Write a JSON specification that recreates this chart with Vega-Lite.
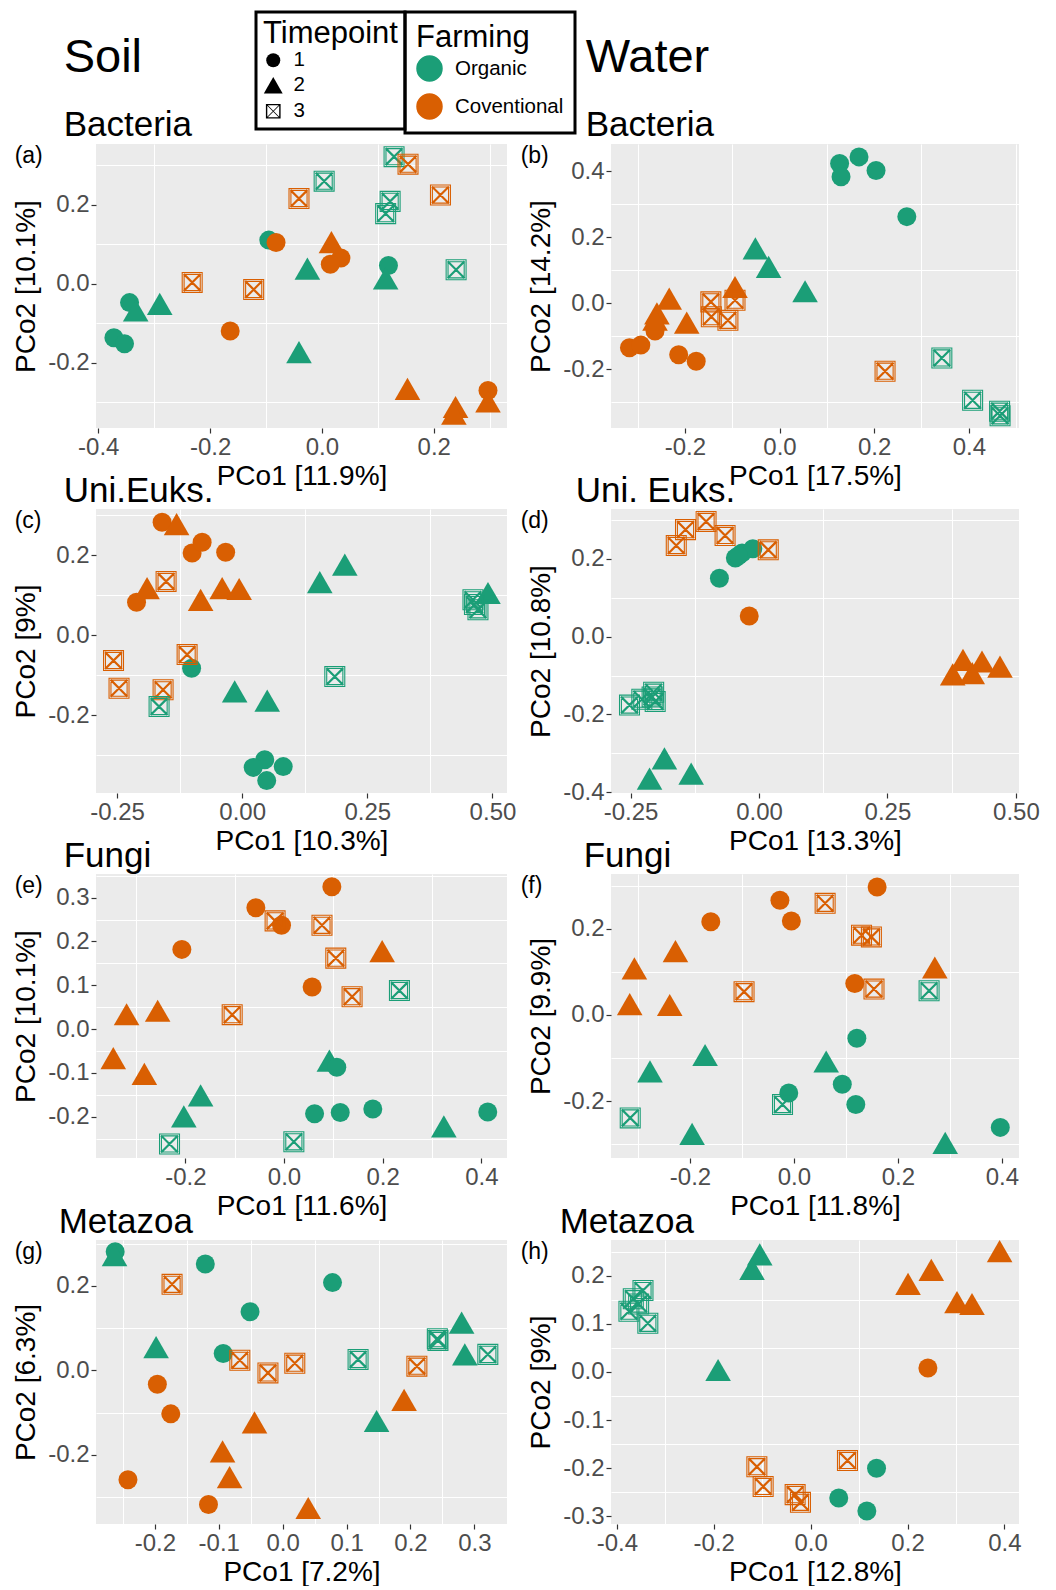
{
"$schema": "https://vega.github.io/schema/vega-lite/v6.json",
"padding": {"left": 12, "top": 10, "right": 5, "bottom": 0},
"autosize": {"type": "pad"},
"background": "white",
"config": {
 "font": "Liberation Sans",
 "locale": {"number": {"decimal": ".", "thousands": ",", "grouping": [3], "currency": ["$", ""], "minus": "-"}},
 "view": {"fill": "#EBEBEB", "stroke": null},
 "axis": {"grid": true, "gridColor": "white", "labelFontSize": 24, "labelColor": "#4D4D4D", "labelFont": "Liberation Sans", "titleFont": "Liberation Sans", "titleFontSize": 28, "titleFontWeight": "normal", "titleColor": "black", "tickColor": "#333333", "tickSize": 5, "tickWidth": 1.2, "domain": false, "labelFlush": false, "labelOverlap": false, "labelPadding": 2},
 "axisX": {"titlePadding": 3},
 "axisY": {"titlePadding": 7},
 "title": {"font": "Liberation Sans", "fontWeight": "normal", "color": "black", "anchor": "start", "frame": "bounds", "subtitleColor": "black", "subtitleFont": "Liberation Sans", "subtitleFontWeight": "normal"},
 "legend": {"titleFont": "Liberation Sans", "labelFont": "Liberation Sans", "titleFontSize": 31, "labelFontSize": 20.5, "titleFontWeight": "normal", "titleColor": "black", "labelColor": "black", "strokeColor": "black", "strokeWidth": 3, "padding": 7, "labelOffset": 10}
},
"datasets": {
"a": [
{"PCo1":0.129,"PCo2":0.321,"Farming":"Organic","Timepoint":"3"},
{"PCo1":0.004,"PCo2":0.259,"Farming":"Organic","Timepoint":"3"},
{"PCo1":0.122,"PCo2":0.208,"Farming":"Organic","Timepoint":"3"},
{"PCo1":0.114,"PCo2":0.177,"Farming":"Organic","Timepoint":"3"},
{"PCo1":0.240,"PCo2":0.035,"Farming":"Organic","Timepoint":"3"},
{"PCo1":-0.095,"PCo2":0.110,"Farming":"Organic","Timepoint":"1"},
{"PCo1":0.119,"PCo2":0.046,"Farming":"Organic","Timepoint":"1"},
{"PCo1":-0.344,"PCo2":-0.048,"Farming":"Organic","Timepoint":"1"},
{"PCo1":-0.372,"PCo2":-0.137,"Farming":"Organic","Timepoint":"1"},
{"PCo1":-0.353,"PCo2":-0.152,"Farming":"Organic","Timepoint":"1"},
{"PCo1":-0.026,"PCo2":0.038,"Farming":"Organic","Timepoint":"2"},
{"PCo1":0.114,"PCo2":0.013,"Farming":"Organic","Timepoint":"2"},
{"PCo1":-0.333,"PCo2":-0.068,"Farming":"Organic","Timepoint":"2"},
{"PCo1":-0.290,"PCo2":-0.051,"Farming":"Organic","Timepoint":"2"},
{"PCo1":-0.041,"PCo2":-0.173,"Farming":"Organic","Timepoint":"2"},
{"PCo1":0.154,"PCo2":0.302,"Farming":"Coventional","Timepoint":"3"},
{"PCo1":-0.041,"PCo2":0.215,"Farming":"Coventional","Timepoint":"3"},
{"PCo1":0.212,"PCo2":0.224,"Farming":"Coventional","Timepoint":"3"},
{"PCo1":-0.232,"PCo2":0.003,"Farming":"Coventional","Timepoint":"3"},
{"PCo1":-0.122,"PCo2":-0.015,"Farming":"Coventional","Timepoint":"3"},
{"PCo1":-0.082,"PCo2":0.104,"Farming":"Coventional","Timepoint":"1"},
{"PCo1":0.034,"PCo2":0.065,"Farming":"Coventional","Timepoint":"1"},
{"PCo1":0.015,"PCo2":0.049,"Farming":"Coventional","Timepoint":"1"},
{"PCo1":-0.164,"PCo2":-0.120,"Farming":"Coventional","Timepoint":"1"},
{"PCo1":0.297,"PCo2":-0.270,"Farming":"Coventional","Timepoint":"1"},
{"PCo1":0.017,"PCo2":0.105,"Farming":"Coventional","Timepoint":"2"},
{"PCo1":0.153,"PCo2":-0.266,"Farming":"Coventional","Timepoint":"2"},
{"PCo1":0.239,"PCo2":-0.312,"Farming":"Coventional","Timepoint":"2"},
{"PCo1":0.236,"PCo2":-0.329,"Farming":"Coventional","Timepoint":"2"},
{"PCo1":0.297,"PCo2":-0.298,"Farming":"Coventional","Timepoint":"2"}
],
"b": [
{"PCo1":0.127,"PCo2":0.423,"Farming":"Organic","Timepoint":"1"},
{"PCo1":0.130,"PCo2":0.383,"Farming":"Organic","Timepoint":"1"},
{"PCo1":0.168,"PCo2":0.443,"Farming":"Organic","Timepoint":"1"},
{"PCo1":0.204,"PCo2":0.402,"Farming":"Organic","Timepoint":"1"},
{"PCo1":0.269,"PCo2":0.262,"Farming":"Organic","Timepoint":"1"},
{"PCo1":-0.051,"PCo2":0.166,"Farming":"Organic","Timepoint":"2"},
{"PCo1":-0.023,"PCo2":0.110,"Farming":"Organic","Timepoint":"2"},
{"PCo1":0.054,"PCo2":0.036,"Farming":"Organic","Timepoint":"2"},
{"PCo1":0.343,"PCo2":-0.166,"Farming":"Organic","Timepoint":"3"},
{"PCo1":0.408,"PCo2":-0.294,"Farming":"Organic","Timepoint":"3"},
{"PCo1":0.465,"PCo2":-0.327,"Farming":"Organic","Timepoint":"3"},
{"PCo1":0.466,"PCo2":-0.341,"Farming":"Organic","Timepoint":"3"},
{"PCo1":-0.317,"PCo2":-0.135,"Farming":"Coventional","Timepoint":"1"},
{"PCo1":-0.293,"PCo2":-0.127,"Farming":"Coventional","Timepoint":"1"},
{"PCo1":-0.263,"PCo2":-0.084,"Farming":"Coventional","Timepoint":"1"},
{"PCo1":-0.213,"PCo2":-0.156,"Farming":"Coventional","Timepoint":"1"},
{"PCo1":-0.176,"PCo2":-0.176,"Farming":"Coventional","Timepoint":"1"},
{"PCo1":-0.233,"PCo2":0.014,"Farming":"Coventional","Timepoint":"2"},
{"PCo1":-0.259,"PCo2":-0.031,"Farming":"Coventional","Timepoint":"2"},
{"PCo1":-0.263,"PCo2":-0.050,"Farming":"Coventional","Timepoint":"2"},
{"PCo1":-0.196,"PCo2":-0.059,"Farming":"Coventional","Timepoint":"2"},
{"PCo1":-0.094,"PCo2":0.049,"Farming":"Coventional","Timepoint":"2"},
{"PCo1":-0.145,"PCo2":0.004,"Farming":"Coventional","Timepoint":"3"},
{"PCo1":-0.144,"PCo2":-0.041,"Farming":"Coventional","Timepoint":"3"},
{"PCo1":-0.109,"PCo2":-0.052,"Farming":"Coventional","Timepoint":"3"},
{"PCo1":-0.094,"PCo2":0.009,"Farming":"Coventional","Timepoint":"3"},
{"PCo1":0.223,"PCo2":-0.206,"Farming":"Coventional","Timepoint":"3"}
],
"c": [
{"PCo1":-0.160,"PCo2":0.283,"Farming":"Coventional","Timepoint":"1"},
{"PCo1":-0.100,"PCo2":0.206,"Farming":"Coventional","Timepoint":"1"},
{"PCo1":-0.080,"PCo2":0.233,"Farming":"Coventional","Timepoint":"1"},
{"PCo1":-0.033,"PCo2":0.208,"Farming":"Coventional","Timepoint":"1"},
{"PCo1":-0.211,"PCo2":0.083,"Farming":"Coventional","Timepoint":"1"},
{"PCo1":-0.131,"PCo2":0.278,"Farming":"Coventional","Timepoint":"2"},
{"PCo1":-0.190,"PCo2":0.118,"Farming":"Coventional","Timepoint":"2"},
{"PCo1":-0.083,"PCo2":0.089,"Farming":"Coventional","Timepoint":"2"},
{"PCo1":-0.040,"PCo2":0.118,"Farming":"Coventional","Timepoint":"2"},
{"PCo1":-0.006,"PCo2":0.116,"Farming":"Coventional","Timepoint":"2"},
{"PCo1":-0.152,"PCo2":0.135,"Farming":"Coventional","Timepoint":"3"},
{"PCo1":-0.110,"PCo2":-0.048,"Farming":"Coventional","Timepoint":"3"},
{"PCo1":-0.257,"PCo2":-0.063,"Farming":"Coventional","Timepoint":"3"},
{"PCo1":-0.246,"PCo2":-0.132,"Farming":"Coventional","Timepoint":"3"},
{"PCo1":-0.158,"PCo2":-0.136,"Farming":"Coventional","Timepoint":"3"},
{"PCo1":-0.101,"PCo2":-0.082,"Farming":"Organic","Timepoint":"1"},
{"PCo1":0.045,"PCo2":-0.311,"Farming":"Organic","Timepoint":"1"},
{"PCo1":0.022,"PCo2":-0.330,"Farming":"Organic","Timepoint":"1"},
{"PCo1":0.082,"PCo2":-0.328,"Farming":"Organic","Timepoint":"1"},
{"PCo1":0.049,"PCo2":-0.363,"Farming":"Organic","Timepoint":"1"},
{"PCo1":0.155,"PCo2":0.133,"Farming":"Organic","Timepoint":"2"},
{"PCo1":0.205,"PCo2":0.177,"Farming":"Organic","Timepoint":"2"},
{"PCo1":0.491,"PCo2":0.106,"Farming":"Organic","Timepoint":"2"},
{"PCo1":-0.015,"PCo2":-0.140,"Farming":"Organic","Timepoint":"2"},
{"PCo1":0.050,"PCo2":-0.163,"Farming":"Organic","Timepoint":"2"},
{"PCo1":0.461,"PCo2":0.089,"Farming":"Organic","Timepoint":"3"},
{"PCo1":0.471,"PCo2":0.064,"Farming":"Organic","Timepoint":"3"},
{"PCo1":0.464,"PCo2":0.077,"Farming":"Organic","Timepoint":"3"},
{"PCo1":0.185,"PCo2":-0.103,"Farming":"Organic","Timepoint":"3"},
{"PCo1":-0.166,"PCo2":-0.178,"Farming":"Organic","Timepoint":"3"}
],
"d": [
{"PCo1":-0.161,"PCo2":0.234,"Farming":"Coventional","Timepoint":"3"},
{"PCo1":-0.143,"PCo2":0.275,"Farming":"Coventional","Timepoint":"3"},
{"PCo1":-0.103,"PCo2":0.296,"Farming":"Coventional","Timepoint":"3"},
{"PCo1":-0.066,"PCo2":0.260,"Farming":"Coventional","Timepoint":"3"},
{"PCo1":0.018,"PCo2":0.223,"Farming":"Coventional","Timepoint":"3"},
{"PCo1":-0.019,"PCo2":0.053,"Farming":"Coventional","Timepoint":"1"},
{"PCo1":0.377,"PCo2":-0.097,"Farming":"Coventional","Timepoint":"2"},
{"PCo1":0.397,"PCo2":-0.060,"Farming":"Coventional","Timepoint":"2"},
{"PCo1":0.415,"PCo2":-0.094,"Farming":"Coventional","Timepoint":"2"},
{"PCo1":0.434,"PCo2":-0.064,"Farming":"Coventional","Timepoint":"2"},
{"PCo1":0.469,"PCo2":-0.077,"Farming":"Coventional","Timepoint":"2"},
{"PCo1":-0.077,"PCo2":0.150,"Farming":"Organic","Timepoint":"1"},
{"PCo1":-0.046,"PCo2":0.202,"Farming":"Organic","Timepoint":"1"},
{"PCo1":-0.033,"PCo2":0.215,"Farming":"Organic","Timepoint":"1"},
{"PCo1":-0.012,"PCo2":0.226,"Farming":"Organic","Timepoint":"1"},
{"PCo1":-0.040,"PCo2":0.208,"Farming":"Organic","Timepoint":"1"},
{"PCo1":-0.252,"PCo2":-0.176,"Farming":"Organic","Timepoint":"3"},
{"PCo1":-0.228,"PCo2":-0.161,"Farming":"Organic","Timepoint":"3"},
{"PCo1":-0.205,"PCo2":-0.143,"Farming":"Organic","Timepoint":"3"},
{"PCo1":-0.202,"PCo2":-0.167,"Farming":"Organic","Timepoint":"3"},
{"PCo1":-0.208,"PCo2":-0.155,"Farming":"Organic","Timepoint":"3"},
{"PCo1":-0.184,"PCo2":-0.313,"Farming":"Organic","Timepoint":"2"},
{"PCo1":-0.213,"PCo2":-0.365,"Farming":"Organic","Timepoint":"2"},
{"PCo1":-0.132,"PCo2":-0.352,"Farming":"Organic","Timepoint":"2"}
],
"e": [
{"PCo1":0.097,"PCo2":0.325,"Farming":"Coventional","Timepoint":"1"},
{"PCo1":-0.057,"PCo2":0.277,"Farming":"Coventional","Timepoint":"1"},
{"PCo1":-0.005,"PCo2":0.237,"Farming":"Coventional","Timepoint":"1"},
{"PCo1":-0.207,"PCo2":0.182,"Farming":"Coventional","Timepoint":"1"},
{"PCo1":0.057,"PCo2":0.096,"Farming":"Coventional","Timepoint":"1"},
{"PCo1":-0.018,"PCo2":0.247,"Farming":"Coventional","Timepoint":"3"},
{"PCo1":0.077,"PCo2":0.237,"Farming":"Coventional","Timepoint":"3"},
{"PCo1":0.105,"PCo2":0.162,"Farming":"Coventional","Timepoint":"3"},
{"PCo1":0.138,"PCo2":0.074,"Farming":"Coventional","Timepoint":"3"},
{"PCo1":-0.105,"PCo2":0.033,"Farming":"Coventional","Timepoint":"3"},
{"PCo1":0.199,"PCo2":0.178,"Farming":"Coventional","Timepoint":"2"},
{"PCo1":-0.319,"PCo2":0.034,"Farming":"Coventional","Timepoint":"2"},
{"PCo1":-0.256,"PCo2":0.042,"Farming":"Coventional","Timepoint":"2"},
{"PCo1":-0.346,"PCo2":-0.066,"Farming":"Coventional","Timepoint":"2"},
{"PCo1":-0.283,"PCo2":-0.102,"Farming":"Coventional","Timepoint":"2"},
{"PCo1":0.092,"PCo2":-0.072,"Farming":"Organic","Timepoint":"2"},
{"PCo1":-0.169,"PCo2":-0.151,"Farming":"Organic","Timepoint":"2"},
{"PCo1":-0.203,"PCo2":-0.199,"Farming":"Organic","Timepoint":"2"},
{"PCo1":0.324,"PCo2":-0.222,"Farming":"Organic","Timepoint":"2"},
{"PCo1":0.107,"PCo2":-0.087,"Farming":"Organic","Timepoint":"1"},
{"PCo1":0.062,"PCo2":-0.193,"Farming":"Organic","Timepoint":"1"},
{"PCo1":0.114,"PCo2":-0.190,"Farming":"Organic","Timepoint":"1"},
{"PCo1":0.180,"PCo2":-0.182,"Farming":"Organic","Timepoint":"1"},
{"PCo1":0.413,"PCo2":-0.189,"Farming":"Organic","Timepoint":"1"},
{"PCo1":0.234,"PCo2":0.088,"Farming":"Organic","Timepoint":"3"},
{"PCo1":-0.232,"PCo2":-0.262,"Farming":"Organic","Timepoint":"3"},
{"PCo1":0.020,"PCo2":-0.257,"Farming":"Organic","Timepoint":"3"}
],
"f": [
{"PCo1":0.160,"PCo2":0.297,"Farming":"Coventional","Timepoint":"1"},
{"PCo1":-0.027,"PCo2":0.266,"Farming":"Coventional","Timepoint":"1"},
{"PCo1":-0.005,"PCo2":0.218,"Farming":"Coventional","Timepoint":"1"},
{"PCo1":-0.160,"PCo2":0.216,"Farming":"Coventional","Timepoint":"1"},
{"PCo1":0.117,"PCo2":0.073,"Farming":"Coventional","Timepoint":"1"},
{"PCo1":0.060,"PCo2":0.259,"Farming":"Coventional","Timepoint":"3"},
{"PCo1":0.130,"PCo2":0.185,"Farming":"Coventional","Timepoint":"3"},
{"PCo1":0.149,"PCo2":0.181,"Farming":"Coventional","Timepoint":"3"},
{"PCo1":0.154,"PCo2":0.060,"Farming":"Coventional","Timepoint":"3"},
{"PCo1":-0.096,"PCo2":0.054,"Farming":"Coventional","Timepoint":"3"},
{"PCo1":-0.228,"PCo2":0.148,"Farming":"Coventional","Timepoint":"2"},
{"PCo1":-0.307,"PCo2":0.108,"Farming":"Coventional","Timepoint":"2"},
{"PCo1":0.271,"PCo2":0.110,"Farming":"Coventional","Timepoint":"2"},
{"PCo1":-0.316,"PCo2":0.025,"Farming":"Coventional","Timepoint":"2"},
{"PCo1":-0.239,"PCo2":0.023,"Farming":"Coventional","Timepoint":"2"},
{"PCo1":0.121,"PCo2":-0.054,"Farming":"Organic","Timepoint":"1"},
{"PCo1":0.093,"PCo2":-0.161,"Farming":"Organic","Timepoint":"1"},
{"PCo1":0.119,"PCo2":-0.208,"Farming":"Organic","Timepoint":"1"},
{"PCo1":-0.010,"PCo2":-0.181,"Farming":"Organic","Timepoint":"1"},
{"PCo1":0.397,"PCo2":-0.261,"Farming":"Organic","Timepoint":"1"},
{"PCo1":-0.171,"PCo2":-0.093,"Farming":"Organic","Timepoint":"2"},
{"PCo1":-0.277,"PCo2":-0.131,"Farming":"Organic","Timepoint":"2"},
{"PCo1":0.062,"PCo2":-0.108,"Farming":"Organic","Timepoint":"2"},
{"PCo1":-0.196,"PCo2":-0.276,"Farming":"Organic","Timepoint":"2"},
{"PCo1":0.291,"PCo2":-0.297,"Farming":"Organic","Timepoint":"2"},
{"PCo1":-0.315,"PCo2":-0.239,"Farming":"Organic","Timepoint":"3"},
{"PCo1":-0.022,"PCo2":-0.208,"Farming":"Organic","Timepoint":"3"},
{"PCo1":0.260,"PCo2":0.056,"Farming":"Organic","Timepoint":"3"}
],
"g": [
{"PCo1":-0.262,"PCo2":0.281,"Farming":"Organic","Timepoint":"1"},
{"PCo1":-0.121,"PCo2":0.252,"Farming":"Organic","Timepoint":"1"},
{"PCo1":0.078,"PCo2":0.208,"Farming":"Organic","Timepoint":"1"},
{"PCo1":-0.051,"PCo2":0.139,"Farming":"Organic","Timepoint":"1"},
{"PCo1":-0.093,"PCo2":0.040,"Farming":"Organic","Timepoint":"1"},
{"PCo1":-0.263,"PCo2":0.273,"Farming":"Organic","Timepoint":"2"},
{"PCo1":-0.198,"PCo2":0.055,"Farming":"Organic","Timepoint":"2"},
{"PCo1":0.280,"PCo2":0.113,"Farming":"Organic","Timepoint":"2"},
{"PCo1":0.285,"PCo2":0.038,"Farming":"Organic","Timepoint":"2"},
{"PCo1":0.147,"PCo2":-0.120,"Farming":"Organic","Timepoint":"2"},
{"PCo1":0.242,"PCo2":0.075,"Farming":"Organic","Timepoint":"3"},
{"PCo1":0.243,"PCo2":0.071,"Farming":"Organic","Timepoint":"3"},
{"PCo1":0.118,"PCo2":0.026,"Farming":"Organic","Timepoint":"3"},
{"PCo1":0.321,"PCo2":0.038,"Farming":"Organic","Timepoint":"3"},
{"PCo1":-0.173,"PCo2":0.204,"Farming":"Coventional","Timepoint":"3"},
{"PCo1":-0.067,"PCo2":0.024,"Farming":"Coventional","Timepoint":"3"},
{"PCo1":-0.023,"PCo2":-0.006,"Farming":"Coventional","Timepoint":"3"},
{"PCo1":0.019,"PCo2":0.017,"Farming":"Coventional","Timepoint":"3"},
{"PCo1":0.210,"PCo2":0.010,"Farming":"Coventional","Timepoint":"3"},
{"PCo1":-0.196,"PCo2":-0.033,"Farming":"Coventional","Timepoint":"1"},
{"PCo1":-0.175,"PCo2":-0.103,"Farming":"Coventional","Timepoint":"1"},
{"PCo1":-0.242,"PCo2":-0.259,"Farming":"Coventional","Timepoint":"1"},
{"PCo1":-0.116,"PCo2":-0.318,"Farming":"Coventional","Timepoint":"1"},
{"PCo1":0.190,"PCo2":-0.070,"Farming":"Coventional","Timepoint":"2"},
{"PCo1":-0.044,"PCo2":-0.123,"Farming":"Coventional","Timepoint":"2"},
{"PCo1":-0.094,"PCo2":-0.192,"Farming":"Coventional","Timepoint":"2"},
{"PCo1":-0.083,"PCo2":-0.253,"Farming":"Coventional","Timepoint":"2"},
{"PCo1":0.040,"PCo2":-0.326,"Farming":"Coventional","Timepoint":"2"}
],
"h": [
{"PCo1":-0.375,"PCo2":0.126,"Farming":"Organic","Timepoint":"3"},
{"PCo1":-0.366,"PCo2":0.152,"Farming":"Organic","Timepoint":"3"},
{"PCo1":-0.346,"PCo2":0.169,"Farming":"Organic","Timepoint":"3"},
{"PCo1":-0.336,"PCo2":0.101,"Farming":"Organic","Timepoint":"3"},
{"PCo1":-0.355,"PCo2":0.141,"Farming":"Organic","Timepoint":"3"},
{"PCo1":-0.105,"PCo2":0.244,"Farming":"Organic","Timepoint":"2"},
{"PCo1":-0.121,"PCo2":0.214,"Farming":"Organic","Timepoint":"2"},
{"PCo1":-0.191,"PCo2":0.004,"Farming":"Organic","Timepoint":"2"},
{"PCo1":0.136,"PCo2":-0.200,"Farming":"Organic","Timepoint":"1"},
{"PCo1":0.058,"PCo2":-0.262,"Farming":"Organic","Timepoint":"1"},
{"PCo1":0.116,"PCo2":-0.289,"Farming":"Organic","Timepoint":"1"},
{"PCo1":0.390,"PCo2":0.251,"Farming":"Coventional","Timepoint":"2"},
{"PCo1":0.249,"PCo2":0.212,"Farming":"Coventional","Timepoint":"2"},
{"PCo1":0.201,"PCo2":0.183,"Farming":"Coventional","Timepoint":"2"},
{"PCo1":0.302,"PCo2":0.145,"Farming":"Coventional","Timepoint":"2"},
{"PCo1":0.333,"PCo2":0.141,"Farming":"Coventional","Timepoint":"2"},
{"PCo1":0.242,"PCo2":0.008,"Farming":"Coventional","Timepoint":"1"},
{"PCo1":0.076,"PCo2":-0.184,"Farming":"Coventional","Timepoint":"3"},
{"PCo1":-0.111,"PCo2":-0.197,"Farming":"Coventional","Timepoint":"3"},
{"PCo1":-0.098,"PCo2":-0.238,"Farming":"Coventional","Timepoint":"3"},
{"PCo1":-0.032,"PCo2":-0.255,"Farming":"Coventional","Timepoint":"3"},
{"PCo1":-0.021,"PCo2":-0.271,"Farming":"Coventional","Timepoint":"3"}
]
},
"columns": 2,
"align": "each",
"spacing": {"row": -16, "column": 4},
"concat": [
{"title": {"text": "Soil", "subtitle": "Bacteria", "fontSize": 47, "subtitleFontSize": 35, "subtitlePadding": 26, "dx": 51, "offset": 0},
 "vconcat": [{
  "title": {"text": "(a)", "fontSize": 23, "offset": -24, "dx": 2},
  "width": 411, "height": 284, "data": {"name": "a"},
  "resolve": {"axis": {"x": "independent", "y": "independent"}},
  "layer": [
   {"transform": [{"filter": "datum.Timepoint != '3'"}],
    "mark": {"type": "point", "filled": true, "opacity": 1, "size": 361},
    "encoding": {
     "x": {"field": "PCo1", "type": "quantitative", "scale": {"domain": [-0.404, 0.331], "nice": false, "zero": false}, "axis": {"values": [-0.3,-0.1,0.1,0.3], "gridWidth": 1, "labels": false, "ticks": false, "title": null, "orient": "bottom"}},
     "y": {"field": "PCo2", "type": "quantitative", "scale": {"domain": [-0.365, 0.353], "nice": false, "zero": false}, "axis": {"values": [-0.3,-0.1,0.1,0.3], "gridWidth": 1, "labels": false, "ticks": false, "title": null, "orient": "left"}},
     "shape": {"field": "Timepoint", "type": "nominal", "scale": {"domain": ["1","2","3"], "range": ["circle", "M0,-1.167L1.347,1.167L-1.347,1.167Z", "M-1.05,-1.05L1.05,-1.05L1.05,1.05L-1.05,1.05Z M-0.85,-0.85L-0.85,0.85L0.85,0.85L0.85,-0.85Z M-0.81,-0.89L0.89,0.81L0.81,0.89L-0.89,-0.81Z M0.81,-0.89L0.89,-0.81L-0.81,0.89L-0.89,0.81Z"]},
       "legend": {"title": "Timepoint", "orient": "none", "legendX": 160, "legendY": -132, "symbolSize": 196, "rowPadding": 3, "titlePadding": 0}},
     "color": {"field": "Farming", "type": "nominal", "scale": {"domain": ["Organic", "Coventional"], "range": ["#1B9E77", "#D95F02"]},
       "legend": {"title": "Farming", "orient": "none", "legendX": 309, "legendY": -132, "symbolSize": 625, "symbolType": "circle", "padding": 11, "rowPadding": 7, "titlePadding": 1, "labelOffset": 12}}
    }},
   {"transform": [{"filter": "datum.Timepoint == '3'"}],
    "mark": {"type": "point", "filled": false, "opacity": 1, "size": 361, "strokeWidth": 1.1},
    "encoding": {
     "x": {"field": "PCo1", "type": "quantitative", "axis": {"values": [-0.4,-0.2,0,0.2], "format": ".1f", "gridWidth": 2, "title": "PCo1 [11.9%]", "orient": "bottom"}},
     "y": {"field": "PCo2", "type": "quantitative", "axis": {"values": [-0.2,0,0.2], "format": ".1f", "gridWidth": 2, "title": "PCo2 [10.1%]", "orient": "left"}},
     "shape": {"field": "Timepoint", "type": "nominal"},
     "color": {"field": "Farming", "type": "nominal"}
    }}
  ]
 }]
},
{"title": {"text": "Water", "subtitle": "Bacteria", "fontSize": 47, "subtitleFontSize": 35, "subtitlePadding": 26, "dx": 65, "offset": 0},
 "vconcat": [{
  "title": {"text": "(b)", "fontSize": 23, "offset": -24, "dx": -7},
  "width": 408, "height": 284, "data": {"name": "b"},
  "resolve": {"axis": {"x": "independent", "y": "independent"}},
  "layer": [
   {"transform": [{"filter": "datum.Timepoint != '3'"}],
    "mark": {"type": "point", "filled": true, "opacity": 1, "size": 361},
    "encoding": {
     "x": {"field": "PCo1", "type": "quantitative", "scale": {"domain": [-0.356, 0.506], "nice": false, "zero": false}, "axis": {"values": [-0.3,-0.1,0.1,0.3,0.5], "gridWidth": 1, "labels": false, "ticks": false, "title": null, "orient": "bottom"}},
     "y": {"field": "PCo2", "type": "quantitative", "scale": {"domain": [-0.378, 0.482], "nice": false, "zero": false}, "axis": {"values": [-0.3,-0.1,0.1,0.3], "gridWidth": 1, "labels": false, "ticks": false, "title": null, "orient": "left"}},
     "shape": {"field": "Timepoint", "type": "nominal", "scale": {"domain": ["1","2","3"], "range": ["circle", "M0,-1.167L1.347,1.167L-1.347,1.167Z", "M-1.05,-1.05L1.05,-1.05L1.05,1.05L-1.05,1.05Z M-0.85,-0.85L-0.85,0.85L0.85,0.85L0.85,-0.85Z M-0.81,-0.89L0.89,0.81L0.81,0.89L-0.89,-0.81Z M0.81,-0.89L0.89,-0.81L-0.81,0.89L-0.89,0.81Z"]}},
     "color": {"field": "Farming", "type": "nominal", "scale": {"domain": ["Organic", "Coventional"], "range": ["#1B9E77", "#D95F02"]}}
    }},
   {"transform": [{"filter": "datum.Timepoint == '3'"}],
    "mark": {"type": "point", "filled": false, "opacity": 1, "size": 361, "strokeWidth": 1.1},
    "encoding": {
     "x": {"field": "PCo1", "type": "quantitative", "axis": {"values": [-0.2,0,0.2,0.4], "format": ".1f", "gridWidth": 2, "title": "PCo1 [17.5%]", "orient": "bottom"}},
     "y": {"field": "PCo2", "type": "quantitative", "axis": {"values": [-0.2,0,0.2,0.4], "format": ".1f", "gridWidth": 2, "title": "PCo2 [14.2%]", "orient": "left"}},
     "shape": {"field": "Timepoint", "type": "nominal"},
     "color": {"field": "Farming", "type": "nominal"}
    }}
  ]
 }]
},
{"title": {"text": "Uni.Euks.", "fontSize": 35, "dx": 51, "offset": 0},
 "vconcat": [{
  "title": {"text": "(c)", "fontSize": 23, "offset": -24, "dx": 2},
  "width": 411, "height": 284, "data": {"name": "c"},
  "resolve": {"axis": {"x": "independent", "y": "independent"}},
  "layer": [
   {"transform": [{"filter": "datum.Timepoint != '3'"}],
    "mark": {"type": "point", "filled": true, "opacity": 1, "size": 361},
    "encoding": {
     "x": {"field": "PCo1", "type": "quantitative", "scale": {"domain": [-0.292, 0.529], "nice": false, "zero": false}, "axis": {"values": [-0.125,0.125,0.375], "gridWidth": 1, "labels": false, "ticks": false, "title": null, "orient": "bottom"}},
     "y": {"field": "PCo2", "type": "quantitative", "scale": {"domain": [-0.394, 0.316], "nice": false, "zero": false}, "axis": {"values": [-0.3,-0.1,0.1,0.3], "gridWidth": 1, "labels": false, "ticks": false, "title": null, "orient": "left"}},
     "shape": {"field": "Timepoint", "type": "nominal", "scale": {"domain": ["1","2","3"], "range": ["circle", "M0,-1.167L1.347,1.167L-1.347,1.167Z", "M-1.05,-1.05L1.05,-1.05L1.05,1.05L-1.05,1.05Z M-0.85,-0.85L-0.85,0.85L0.85,0.85L0.85,-0.85Z M-0.81,-0.89L0.89,0.81L0.81,0.89L-0.89,-0.81Z M0.81,-0.89L0.89,-0.81L-0.81,0.89L-0.89,0.81Z"]}},
     "color": {"field": "Farming", "type": "nominal", "scale": {"domain": ["Organic", "Coventional"], "range": ["#1B9E77", "#D95F02"]}}
    }},
   {"transform": [{"filter": "datum.Timepoint == '3'"}],
    "mark": {"type": "point", "filled": false, "opacity": 1, "size": 361, "strokeWidth": 1.1},
    "encoding": {
     "x": {"field": "PCo1", "type": "quantitative", "axis": {"values": [-0.25,0,0.25,0.5], "format": ".2f", "gridWidth": 2, "title": "PCo1 [10.3%]", "orient": "bottom"}},
     "y": {"field": "PCo2", "type": "quantitative", "axis": {"values": [-0.2,0,0.2], "format": ".1f", "gridWidth": 2, "title": "PCo2 [9%]", "orient": "left"}},
     "shape": {"field": "Timepoint", "type": "nominal"},
     "color": {"field": "Farming", "type": "nominal"}
    }}
  ]
 }]
},
{"title": {"text": "Uni. Euks.", "fontSize": 35, "dx": 55, "offset": 0},
 "vconcat": [{
  "title": {"text": "(d)", "fontSize": 23, "offset": -24, "dx": -7},
  "width": 408, "height": 284, "data": {"name": "d"},
  "resolve": {"axis": {"x": "independent", "y": "independent"}},
  "layer": [
   {"transform": [{"filter": "datum.Timepoint != '3'"}],
    "mark": {"type": "point", "filled": true, "opacity": 1, "size": 361},
    "encoding": {
     "x": {"field": "PCo1", "type": "quantitative", "scale": {"domain": [-0.288, 0.506], "nice": false, "zero": false}, "axis": {"values": [-0.125,0.125,0.375], "gridWidth": 1, "labels": false, "ticks": false, "title": null, "orient": "bottom"}},
     "y": {"field": "PCo2", "type": "quantitative", "scale": {"domain": [-0.402, 0.328], "nice": false, "zero": false}, "axis": {"values": [-0.3,-0.1,0.1,0.3], "gridWidth": 1, "labels": false, "ticks": false, "title": null, "orient": "left"}},
     "shape": {"field": "Timepoint", "type": "nominal", "scale": {"domain": ["1","2","3"], "range": ["circle", "M0,-1.167L1.347,1.167L-1.347,1.167Z", "M-1.05,-1.05L1.05,-1.05L1.05,1.05L-1.05,1.05Z M-0.85,-0.85L-0.85,0.85L0.85,0.85L0.85,-0.85Z M-0.81,-0.89L0.89,0.81L0.81,0.89L-0.89,-0.81Z M0.81,-0.89L0.89,-0.81L-0.81,0.89L-0.89,0.81Z"]}},
     "color": {"field": "Farming", "type": "nominal", "scale": {"domain": ["Organic", "Coventional"], "range": ["#1B9E77", "#D95F02"]}}
    }},
   {"transform": [{"filter": "datum.Timepoint == '3'"}],
    "mark": {"type": "point", "filled": false, "opacity": 1, "size": 361, "strokeWidth": 1.1},
    "encoding": {
     "x": {"field": "PCo1", "type": "quantitative", "axis": {"values": [-0.25,0,0.25,0.5], "format": ".2f", "gridWidth": 2, "title": "PCo1 [13.3%]", "orient": "bottom"}},
     "y": {"field": "PCo2", "type": "quantitative", "axis": {"values": [-0.4,-0.2,0,0.2], "format": ".1f", "gridWidth": 2, "title": "PCo2 [10.8%]", "orient": "left"}},
     "shape": {"field": "Timepoint", "type": "nominal"},
     "color": {"field": "Farming", "type": "nominal"}
    }}
  ]
 }]
},
{"title": {"text": "Fungi", "fontSize": 35, "dx": 51, "offset": 0},
 "vconcat": [{
  "title": {"text": "(e)", "fontSize": 23, "offset": -24, "dx": 2},
  "width": 411, "height": 284, "data": {"name": "e"},
  "resolve": {"axis": {"x": "independent", "y": "independent"}},
  "layer": [
   {"transform": [{"filter": "datum.Timepoint != '3'"}],
    "mark": {"type": "point", "filled": true, "opacity": 1, "size": 361},
    "encoding": {
     "x": {"field": "PCo1", "type": "quantitative", "scale": {"domain": [-0.381, 0.452], "nice": false, "zero": false}, "axis": {"values": [-0.3,-0.1,0.1,0.3], "gridWidth": 1, "labels": false, "ticks": false, "title": null, "orient": "bottom"}},
     "y": {"field": "PCo2", "type": "quantitative", "scale": {"domain": [-0.294, 0.354], "nice": false, "zero": false}, "axis": {"values": [-0.25,-0.15,-0.05,0.05,0.15,0.25,0.35], "gridWidth": 1, "labels": false, "ticks": false, "title": null, "orient": "left"}},
     "shape": {"field": "Timepoint", "type": "nominal", "scale": {"domain": ["1","2","3"], "range": ["circle", "M0,-1.167L1.347,1.167L-1.347,1.167Z", "M-1.05,-1.05L1.05,-1.05L1.05,1.05L-1.05,1.05Z M-0.85,-0.85L-0.85,0.85L0.85,0.85L0.85,-0.85Z M-0.81,-0.89L0.89,0.81L0.81,0.89L-0.89,-0.81Z M0.81,-0.89L0.89,-0.81L-0.81,0.89L-0.89,0.81Z"]}},
     "color": {"field": "Farming", "type": "nominal", "scale": {"domain": ["Organic", "Coventional"], "range": ["#1B9E77", "#D95F02"]}}
    }},
   {"transform": [{"filter": "datum.Timepoint == '3'"}],
    "mark": {"type": "point", "filled": false, "opacity": 1, "size": 361, "strokeWidth": 1.1},
    "encoding": {
     "x": {"field": "PCo1", "type": "quantitative", "axis": {"values": [-0.2,0,0.2,0.4], "format": ".1f", "gridWidth": 2, "title": "PCo1 [11.6%]", "orient": "bottom"}},
     "y": {"field": "PCo2", "type": "quantitative", "axis": {"values": [-0.2,-0.1,0,0.1,0.2,0.3], "format": ".1f", "gridWidth": 2, "title": "PCo2 [10.1%]", "orient": "left"}},
     "shape": {"field": "Timepoint", "type": "nominal"},
     "color": {"field": "Farming", "type": "nominal"}
    }}
  ]
 }]
},
{"title": {"text": "Fungi", "fontSize": 35, "dx": 63, "offset": 0},
 "vconcat": [{
  "title": {"text": "(f)", "fontSize": 23, "offset": -24, "dx": -7},
  "width": 408, "height": 284, "data": {"name": "f"},
  "resolve": {"axis": {"x": "independent", "y": "independent"}},
  "layer": [
   {"transform": [{"filter": "datum.Timepoint != '3'"}],
    "mark": {"type": "point", "filled": true, "opacity": 1, "size": 361},
    "encoding": {
     "x": {"field": "PCo1", "type": "quantitative", "scale": {"domain": [-0.352, 0.433], "nice": false, "zero": false}, "axis": {"values": [-0.3,-0.1,0.1,0.3], "gridWidth": 1, "labels": false, "ticks": false, "title": null, "orient": "bottom"}},
     "y": {"field": "PCo2", "type": "quantitative", "scale": {"domain": [-0.332, 0.327], "nice": false, "zero": false}, "axis": {"values": [-0.3,-0.1,0.1,0.3], "gridWidth": 1, "labels": false, "ticks": false, "title": null, "orient": "left"}},
     "shape": {"field": "Timepoint", "type": "nominal", "scale": {"domain": ["1","2","3"], "range": ["circle", "M0,-1.167L1.347,1.167L-1.347,1.167Z", "M-1.05,-1.05L1.05,-1.05L1.05,1.05L-1.05,1.05Z M-0.85,-0.85L-0.85,0.85L0.85,0.85L0.85,-0.85Z M-0.81,-0.89L0.89,0.81L0.81,0.89L-0.89,-0.81Z M0.81,-0.89L0.89,-0.81L-0.81,0.89L-0.89,0.81Z"]}},
     "color": {"field": "Farming", "type": "nominal", "scale": {"domain": ["Organic", "Coventional"], "range": ["#1B9E77", "#D95F02"]}}
    }},
   {"transform": [{"filter": "datum.Timepoint == '3'"}],
    "mark": {"type": "point", "filled": false, "opacity": 1, "size": 361, "strokeWidth": 1.1},
    "encoding": {
     "x": {"field": "PCo1", "type": "quantitative", "axis": {"values": [-0.2,0,0.2,0.4], "format": ".1f", "gridWidth": 2, "title": "PCo1 [11.8%]", "orient": "bottom"}},
     "y": {"field": "PCo2", "type": "quantitative", "axis": {"values": [-0.2,0,0.2], "format": ".1f", "gridWidth": 2, "title": "PCo2 [9.9%]", "orient": "left"}},
     "shape": {"field": "Timepoint", "type": "nominal"},
     "color": {"field": "Farming", "type": "nominal"}
    }}
  ]
 }]
},
{"title": {"text": "Metazoa", "fontSize": 35, "dx": 46, "offset": 0},
 "vconcat": [{
  "title": {"text": "(g)", "fontSize": 23, "offset": -24, "dx": 2},
  "width": 411, "height": 284, "data": {"name": "g"},
  "resolve": {"axis": {"x": "independent", "y": "independent"}},
  "layer": [
   {"transform": [{"filter": "datum.Timepoint != '3'"}],
    "mark": {"type": "point", "filled": true, "opacity": 1, "size": 361},
    "encoding": {
     "x": {"field": "PCo1", "type": "quantitative", "scale": {"domain": [-0.292, 0.351], "nice": false, "zero": false}, "axis": {"values": [-0.25,-0.15,-0.05,0.05,0.15,0.25], "gridWidth": 1, "labels": false, "ticks": false, "title": null, "orient": "bottom"}},
     "y": {"field": "PCo2", "type": "quantitative", "scale": {"domain": [-0.364, 0.309], "nice": false, "zero": false}, "axis": {"values": [-0.3,-0.1,0.1,0.3], "gridWidth": 1, "labels": false, "ticks": false, "title": null, "orient": "left"}},
     "shape": {"field": "Timepoint", "type": "nominal", "scale": {"domain": ["1","2","3"], "range": ["circle", "M0,-1.167L1.347,1.167L-1.347,1.167Z", "M-1.05,-1.05L1.05,-1.05L1.05,1.05L-1.05,1.05Z M-0.85,-0.85L-0.85,0.85L0.85,0.85L0.85,-0.85Z M-0.81,-0.89L0.89,0.81L0.81,0.89L-0.89,-0.81Z M0.81,-0.89L0.89,-0.81L-0.81,0.89L-0.89,0.81Z"]}},
     "color": {"field": "Farming", "type": "nominal", "scale": {"domain": ["Organic", "Coventional"], "range": ["#1B9E77", "#D95F02"]}}
    }},
   {"transform": [{"filter": "datum.Timepoint == '3'"}],
    "mark": {"type": "point", "filled": false, "opacity": 1, "size": 361, "strokeWidth": 1.1},
    "encoding": {
     "x": {"field": "PCo1", "type": "quantitative", "axis": {"values": [-0.2,-0.1,0,0.1,0.2,0.3], "format": ".1f", "gridWidth": 2, "title": "PCo1 [7.2%]", "orient": "bottom"}},
     "y": {"field": "PCo2", "type": "quantitative", "axis": {"values": [-0.2,0,0.2], "format": ".1f", "gridWidth": 2, "title": "PCo2 [6.3%]", "orient": "left"}},
     "shape": {"field": "Timepoint", "type": "nominal"},
     "color": {"field": "Farming", "type": "nominal"}
    }}
  ]
 }]
},
{"title": {"text": "Metazoa", "fontSize": 35, "dx": 39, "offset": 0},
 "vconcat": [{
  "title": {"text": "(h)", "fontSize": 23, "offset": -24, "dx": -7},
  "width": 408, "height": 284, "data": {"name": "h"},
  "resolve": {"axis": {"x": "independent", "y": "independent"}},
  "layer": [
   {"transform": [{"filter": "datum.Timepoint != '3'"}],
    "mark": {"type": "point", "filled": true, "opacity": 1, "size": 361},
    "encoding": {
     "x": {"field": "PCo1", "type": "quantitative", "scale": {"domain": [-0.412, 0.430], "nice": false, "zero": false}, "axis": {"values": [-0.3,-0.1,0.1,0.3], "gridWidth": 1, "labels": false, "ticks": false, "title": null, "orient": "bottom"}},
     "y": {"field": "PCo2", "type": "quantitative", "scale": {"domain": [-0.316, 0.274], "nice": false, "zero": false}, "axis": {"values": [-0.25,-0.15,-0.05,0.05,0.15,0.25], "gridWidth": 1, "labels": false, "ticks": false, "title": null, "orient": "left"}},
     "shape": {"field": "Timepoint", "type": "nominal", "scale": {"domain": ["1","2","3"], "range": ["circle", "M0,-1.167L1.347,1.167L-1.347,1.167Z", "M-1.05,-1.05L1.05,-1.05L1.05,1.05L-1.05,1.05Z M-0.85,-0.85L-0.85,0.85L0.85,0.85L0.85,-0.85Z M-0.81,-0.89L0.89,0.81L0.81,0.89L-0.89,-0.81Z M0.81,-0.89L0.89,-0.81L-0.81,0.89L-0.89,0.81Z"]}},
     "color": {"field": "Farming", "type": "nominal", "scale": {"domain": ["Organic", "Coventional"], "range": ["#1B9E77", "#D95F02"]}}
    }},
   {"transform": [{"filter": "datum.Timepoint == '3'"}],
    "mark": {"type": "point", "filled": false, "opacity": 1, "size": 361, "strokeWidth": 1.1},
    "encoding": {
     "x": {"field": "PCo1", "type": "quantitative", "axis": {"values": [-0.4,-0.2,0,0.2,0.4], "format": ".1f", "gridWidth": 2, "title": "PCo1 [12.8%]", "orient": "bottom"}},
     "y": {"field": "PCo2", "type": "quantitative", "axis": {"values": [-0.3,-0.2,-0.1,0,0.1,0.2], "format": ".1f", "gridWidth": 2, "title": "PCo2 [9%]", "orient": "left"}},
     "shape": {"field": "Timepoint", "type": "nominal"},
     "color": {"field": "Farming", "type": "nominal"}
    }}
  ]
 }]
}
]
}
